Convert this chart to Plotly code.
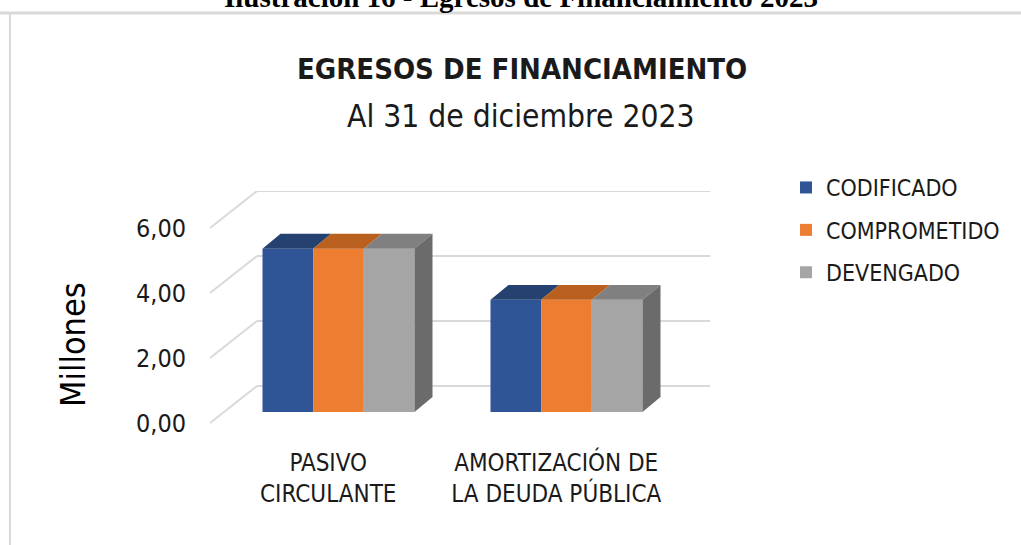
import plotly.graph_objects as go

# ---------------- data ----------------
categories = ["PASIVO CIRCULANTE", "AMORTIZACIÓN DE LA DEUDA PÚBLICA"]
category_labels = ["PASIVO<br>CIRCULANTE", "AMORTIZACIÓN DE<br>LA DEUDA PÚBLICA"]
series_names = ["CODIFICADO", "COMPROMETIDO", "DEVENGADO"]
codificado = [5.02, 3.45]
comprometido = [5.02, 3.45]
devengado = [5.02, 3.45]
y_ticks = [0, 2, 4, 6]

caption = "Ilustración 16 - Egresos de Financiamiento 2023"
title = "EGRESOS DE FINANCIAMIENTO"
subtitle = "Al 31 de diciembre 2023"
y_title = "Millones"

# ---------------- styling ----------------
W, H = 1021, 545
ML, MR, MT, MB = 210, 311, 191, 120
PW, PH = W - ML - MR, H - MT - MB
PX_PER_CAT = 228.0
PX_PER_UNIT = 32.5

def px_x(p):
    return (p - ML) / PW

def px_y(p):
    return (H - MB - p) / PH

front_colors = ["#2F5597", "#ED7D31", "#A5A5A5"]
top_colors = ["#24416F", "#B9601F", "#808080"]
side_color = "#6B6B6B"
grid_color = "#D9D9D9"
FONT = "DejaVu Sans Condensed, Liberation Sans Narrow, sans-serif"

BASE = 11 / PX_PER_UNIT          # lift of bar fronts above the floor front edge
DDX = 18 / PX_PER_CAT            # bar depth (x)
DDY = 15 / PX_PER_UNIT           # bar depth (y)
WALL_DX = 47 / PX_PER_CAT        # back wall depth (x)
WALL_DY = 37 / PX_PER_UNIT       # back wall depth (y)
X_RANGE = [(ML - 338.5) / PX_PER_CAT, (ML + PW - 338.5) / PX_PER_CAT]
Y_RANGE = [-2 / PX_PER_UNIT, (PH - 2) / PX_PER_UNIT]
BARGAP = 1 / 3

series_values = [codificado, comprometido, devengado]
cat_pos = list(range(len(categories)))
bw = (1 - BARGAP) / len(series_names)

fig = go.Figure()

# front faces (real bars)
for k, (name, vals) in enumerate(zip(series_names, series_values)):
    fig.add_trace(go.Bar(
        x=cat_pos, y=vals, base=[BASE] * len(vals), name=name,
        legendgroup=name,
        marker=dict(color=front_colors[k], line=dict(width=0)),
        hoverinfo="skip",
    ))

# top faces and side face computed from the values
for k, vals in enumerate(series_values):
    xs, ys = [], []
    sx, sy = [], []
    for i, v in zip(cat_pos, vals):
        xl = i + (k - (len(series_names) - 1) / 2) * bw - bw / 2
        xr = xl + bw
        yt = BASE + v
        xs += [xl, xr, xr + DDX, xl + DDX, xl, None]
        ys += [yt, yt, yt + DDY, yt + DDY, yt, None]
        if k == len(series_names) - 1:
            sx += [xr, xr, xr + DDX, xr + DDX, xr, None]
            sy += [BASE, yt, yt + DDY, BASE + DDY, BASE, None]
    fig.add_trace(go.Scatter(x=xs, y=ys, fill="toself", mode="lines",
                             line=dict(width=0), fillcolor=top_colors[k],
                             showlegend=False, hoverinfo="skip"))
    if sx:
        fig.add_trace(go.Scatter(x=sx, y=sy, fill="toself", mode="lines",
                                 line=dict(width=0), fillcolor=side_color,
                                 showlegend=False, hoverinfo="skip"))

# back wall + side wall grid lines
shapes = []
for t in y_ticks:
    shapes.append(dict(type="line", xref="x", yref="y", layer="below",
                       x0=X_RANGE[0], y0=t, x1=X_RANGE[0] + WALL_DX, y1=t + WALL_DY,
                       line=dict(color=grid_color, width=2)))
    shapes.append(dict(type="line", xref="x", yref="y", layer="below",
                       x0=X_RANGE[0] + WALL_DX, y0=t + WALL_DY, x1=X_RANGE[1], y1=t + WALL_DY,
                       line=dict(color=grid_color, width=2)))
# chart frame
shapes.append(dict(type="rect", xref="paper", yref="paper", layer="below",
                   x0=px_x(10), x1=px_x(W + 20), y0=px_y(H + 20), y1=px_y(13),
                   line=dict(color=grid_color, width=2), fillcolor="rgba(0,0,0,0)"))
shapes.append(dict(type="line", xref="paper", yref="paper", layer="below",
                   x0=px_x(0), x1=px_x(W), y0=px_y(13), y1=px_y(13),
                   line=dict(color=grid_color, width=3)))

annotations = [
    dict(text="<b>" + caption + "</b>", x=px_x(521), y=px_y(-3), xref="paper", yref="paper",
         showarrow=False, xanchor="center", yanchor="middle",
         font=dict(family="Liberation Serif, Times New Roman, serif", size=29, color="#000000")),
    dict(text="<b>" + title + "</b>", x=px_x(522), y=px_y(69), xref="paper", yref="paper",
         showarrow=False, xanchor="center", yanchor="middle",
         font=dict(family=FONT, size=29, color="#1a1a1a")),
    dict(text=subtitle, x=px_x(521), y=px_y(116), xref="paper", yref="paper",
         showarrow=False, xanchor="center", yanchor="middle",
         font=dict(family=FONT, size=31.5, color="#1a1a1a")),
    dict(text=y_title, x=px_x(73), y=px_y(345), xref="paper", yref="paper",
         showarrow=False, xanchor="center", yanchor="middle", textangle=-90,
         font=dict(family=FONT, size=34, color="#000000")),
]

fig.update_layout(
    width=W, height=H,
    margin=dict(l=ML, r=MR, t=MT, b=MB, autoexpand=False),
    paper_bgcolor="white", plot_bgcolor="rgba(0,0,0,0)",
    barmode="group", bargap=BARGAP, bargroupgap=0,
    separators=",.",
    shapes=shapes, annotations=annotations,
    showlegend=True,
    legend=dict(x=px_x(786), y=px_y(166), xanchor="left", yanchor="top",
                font=dict(family=FONT, size=23, color="#1a1a1a"),
                traceorder="grouped", itemwidth=30, tracegroupgap=9.5,
                bgcolor="rgba(0,0,0,0)"),
    font=dict(family=FONT, color="#1a1a1a"),
)
fig.update_xaxes(range=X_RANGE, showgrid=False, zeroline=False, showline=False,
                 tickmode="array", tickvals=[p - 0.045 for p in cat_pos], ticktext=category_labels,
                 ticks="", ticklabelstandoff=21, tickfont=dict(family=FONT, size=24, color="#1a1a1a"),
                 automargin=False, fixedrange=True)
fig.update_yaxes(range=Y_RANGE, showgrid=False, zeroline=False, showline=False,
                 tickmode="array", tickvals=y_ticks, tickformat=".2f",
                 ticks="", ticklabelstandoff=23, tickfont=dict(family=FONT, size=25, color="#1a1a1a"),
                 automargin=False, fixedrange=True)

fig.write_html("out.html", config={"displayModeBar": False},
               post_script="document.body.style.margin='0';")
